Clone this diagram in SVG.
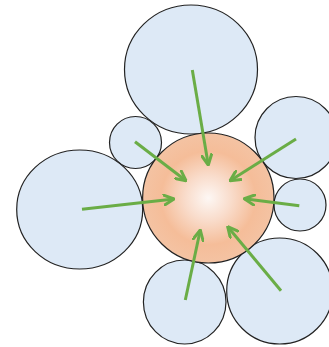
<svg xmlns="http://www.w3.org/2000/svg" width="329" height="347" viewBox="0 0 329 347">
<defs>
<radialGradient id="core" cx="0.5" cy="0.5" r="0.5">
<stop offset="0" stop-color="#fdf7f4"/>
<stop offset="0.35" stop-color="#f9dccb"/>
<stop offset="0.72" stop-color="#f5bd99"/>
<stop offset="1" stop-color="#f4c3a3"/>
</radialGradient>
<marker id="ah" viewBox="0 0 12 12" refX="11" refY="6" markerWidth="12" markerHeight="12" markerUnits="userSpaceOnUse" orient="auto">
<path d="M1,1 L11,6 L1,11" fill="none" stroke="#6aad46" stroke-width="3" stroke-linecap="round" stroke-linejoin="round"/>
</marker>
<style>
.sat{fill:#dde9f6;stroke:#222;stroke-width:1.2}
.core{fill:url(#core);stroke:#222;stroke-width:1.2}
.arr{stroke:#6aad46;stroke-width:3;fill:none;marker-end:url(#ah)}
</style>
</defs>
<g id="n-top"><ellipse class="sat" cx="191" cy="69.5" rx="66.5" ry="64.5"/></g>
<g id="n-topleft"><circle class="sat" cx="135.5" cy="142.5" r="26"/></g>
<g id="n-topright"><ellipse class="sat" cx="296" cy="137.5" rx="41" ry="41"/></g>
<g id="n-left"><ellipse class="sat" cx="79.7" cy="209.5" rx="63" ry="59.5"/></g>
<g id="n-right"><circle class="sat" cx="300" cy="205" r="26"/></g>
<g id="n-bottom"><ellipse class="sat" cx="184.7" cy="302" rx="41.3" ry="42"/></g>
<g id="n-bottomright"><ellipse class="sat" cx="279.7" cy="291" rx="53" ry="53"/></g>
<g id="n-core"><ellipse class="core" cx="208.3" cy="198" rx="65.7" ry="65"/></g>
<g id="connectors">
<line class="arr" x1="192.3" y1="70" x2="208.3" y2="165"/>
<line class="arr" x1="135" y1="141.7" x2="186" y2="180.7"/>
<line class="arr" x1="296" y1="139" x2="230" y2="180.7"/>
<line class="arr" x1="82" y1="209.3" x2="174" y2="199"/>
<line class="arr" x1="299.3" y1="205.7" x2="244.3" y2="198.7"/>
<line class="arr" x1="185.3" y1="300" x2="200.3" y2="230"/>
<line class="arr" x1="281" y1="290.7" x2="227.7" y2="226.7"/>
</g>
</svg>
